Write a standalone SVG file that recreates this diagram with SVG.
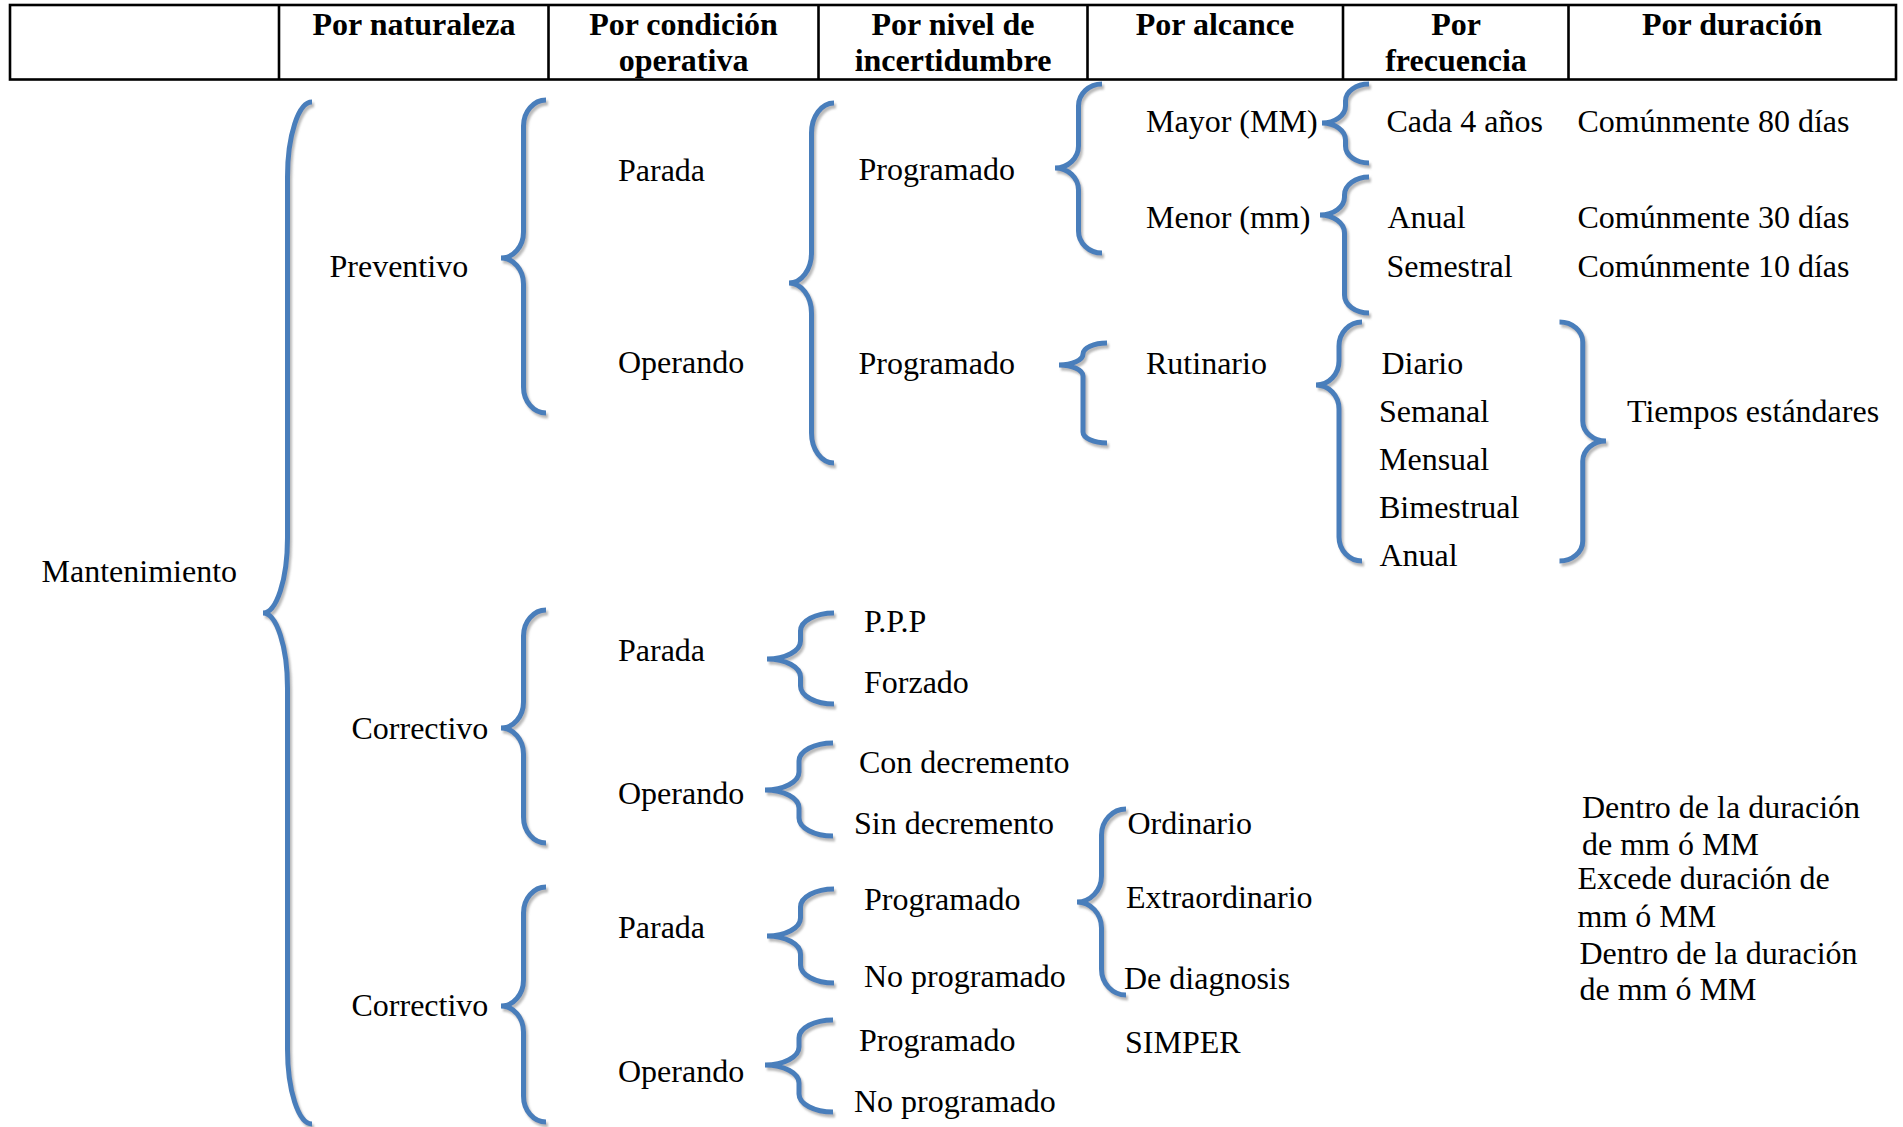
<svg xmlns="http://www.w3.org/2000/svg" width="1903" height="1127" viewBox="0 0 1903 1127">
<style>
  .hd { font-family: "Liberation Serif", "Times New Roman", serif; font-weight: bold; font-size: 32px; fill: #000; text-anchor: middle; }
  .t { font-family: "Liberation Serif", "Times New Roman", serif; font-size: 32px; fill: #000; }
  .grid { stroke: #000; stroke-width: 2.6; fill: none; }
  .br { fill: none; stroke: #4A7EBB; stroke-width: 5; stroke-linecap: butt; stroke-linejoin: miter; }
</style>
<defs>
  <filter id="shadow" x="-20%" y="-5%" width="140%" height="110%">
    <feDropShadow dx="2" dy="3" stdDeviation="0.8" flood-color="#8c8c8c" flood-opacity="0.6"/>
  </filter>
</defs>
<rect width="1903" height="1127" fill="#fff"/>

<g id="header-table">
  <rect class="grid" x="10" y="5" width="1886" height="74.5"/>
  <line class="grid" x1="279" y1="5" x2="279" y2="79.5"/>
  <line class="grid" x1="548.5" y1="5" x2="548.5" y2="79.5"/>
  <line class="grid" x1="818.5" y1="5" x2="818.5" y2="79.5"/>
  <line class="grid" x1="1087.5" y1="5" x2="1087.5" y2="79.5"/>
  <line class="grid" x1="1343" y1="5" x2="1343" y2="79.5"/>
  <line class="grid" x1="1568.5" y1="5" x2="1568.5" y2="79.5"/>
  <text class="hd" x="414" y="35">Por naturaleza</text>
  <text class="hd" x="683.5" y="35">Por condición</text>
  <text class="hd" x="683.5" y="71">operativa</text>
  <text class="hd" x="953" y="35">Por nivel de</text>
  <text class="hd" x="953" y="71">incertidumbre</text>
  <text class="hd" x="1215" y="35">Por alcance</text>
  <text class="hd" x="1456" y="35">Por</text>
  <text class="hd" x="1456" y="71">frecuencia</text>
  <text class="hd" x="1732" y="35">Por duración</text>
</g>

<g id="connectors" filter="url(#shadow)">
  <path class="br" d="M312 102 A24.5 75 0 0 0 287.5 177 L287.5 538 A24.5 75 0 0 1 263 613 A24.5 75 0 0 1 287.5 688 L287.5 1049 A24.5 75 0 0 0 312 1124"/>
  <path class="br" d="M546 100 A22.5 26 0 0 0 523.5 126 L523.5 232 A22.5 26 0 0 1 501 258 A22.5 26 0 0 1 523.5 284 L523.5 387 A22.5 26 0 0 0 546 413"/>
  <path class="br" d="M546 610 A22.5 26 0 0 0 523.5 636 L523.5 702 A22.5 26 0 0 1 501 728 A22.5 26 0 0 1 523.5 754 L523.5 817 A22.5 26 0 0 0 546 843"/>
  <path class="br" d="M546 887 A22.5 26 0 0 0 523.5 913 L523.5 980 A22.5 26 0 0 1 501 1006 A22.5 26 0 0 1 523.5 1032 L523.5 1096 A22.5 26 0 0 0 546 1122"/>
  <path class="br" d="M834 103 A22.5 30 0 0 0 811.5 133 L811.5 253 A22.5 30 0 0 1 789 283 A22.5 30 0 0 1 811.5 313 L811.5 433 A22.5 30 0 0 0 834 463"/>
  <path class="br" d="M1102 84 A23.5 22 0 0 0 1078.5 106 L1078.5 146 A23.5 22 0 0 1 1055 168 A23.5 22 0 0 1 1078.5 190 L1078.5 231 A23.5 22 0 0 0 1102 253"/>
  <path class="br" d="M1107 343 A24 11 0 0 0 1083 354 A24 11 0 0 1 1059 365 A24 11 0 0 1 1083 376 L1083 432 A24 11 0 0 0 1107 443"/>
  <path class="br" d="M1369 84 A23.5 17 0 0 0 1345.5 101 L1345.5 106 A23.5 17 0 0 1 1322 123 A23.5 17 0 0 1 1345.5 140 L1345.5 146 A23.5 17 0 0 0 1369 163"/>
  <path class="br" d="M1369 177 A24.5 18 0 0 0 1344.5 195 L1344.5 197 A24.5 18 0 0 1 1320 215 A24.5 18 0 0 1 1344.5 233 L1344.5 295 A24.5 18 0 0 0 1369 313"/>
  <path class="br" d="M1362 322 A23 24 0 0 0 1339 346 L1339 361 A23 24 0 0 1 1316 385 A23 24 0 0 1 1339 409 L1339 537 A23 24 0 0 0 1362 561"/>
  <path class="br" d="M1559.5 322 A23.25 20 0 0 1 1582.75 342 L1582.75 421 A23.25 20 0 0 0 1606 441 A23.25 20 0 0 0 1582.75 461 L1582.75 541 A23.25 20 0 0 1 1559.5 561"/>
  <path class="br" d="M834 613 A33.5 18 0 0 0 800.5 631 L800.5 641 A33.5 18 0 0 1 767 659 A33.5 18 0 0 1 800.5 677 L800.5 686 A33.5 18 0 0 0 834 704"/>
  <path class="br" d="M833 743 A34 18 0 0 0 799 761 L799 772 A34 18 0 0 1 765 790 A34 18 0 0 1 799 808 L799 818 A34 18 0 0 0 833 836"/>
  <path class="br" d="M834 889 A33.5 18 0 0 0 800.5 907 L800.5 918 A33.5 18 0 0 1 767 936 A33.5 18 0 0 1 800.5 954 L800.5 965 A33.5 18 0 0 0 834 983"/>
  <path class="br" d="M833 1020 A34 18 0 0 0 799 1038 L799 1047 A34 18 0 0 1 765 1065 A34 18 0 0 1 799 1083 L799 1094 A34 18 0 0 0 833 1112"/>
  <path class="br" d="M1126 809 A24.5 26 0 0 0 1101.5 835 L1101.5 876 A24.5 26 0 0 1 1077 902 A24.5 26 0 0 1 1101.5 928 L1101.5 969 A24.5 26 0 0 0 1126 995"/>
</g>

<g id="n-mantenimiento"><text class="t" x="41.5" y="582">Mantenimiento</text></g>
<g id="n-preventivo"><text class="t" x="329.5" y="277">Preventivo</text></g>
<g id="n-correctivo-1"><text class="t" x="351.5" y="739">Correctivo</text></g>
<g id="n-correctivo-2"><text class="t" x="351.5" y="1016">Correctivo</text></g>

<g id="n-prev-parada"><text class="t" x="618" y="181">Parada</text></g>
<g id="n-prev-operando"><text class="t" x="618" y="373">Operando</text></g>
<g id="n-c1-parada"><text class="t" x="618" y="661">Parada</text></g>
<g id="n-c1-operando"><text class="t" x="618" y="804">Operando</text></g>
<g id="n-c2-parada"><text class="t" x="618" y="938">Parada</text></g>
<g id="n-c2-operando"><text class="t" x="618" y="1082">Operando</text></g>

<g id="n-prev-programado-1"><text class="t" x="858.5" y="180">Programado</text></g>
<g id="n-prev-programado-2"><text class="t" x="858.5" y="373.5">Programado</text></g>
<g id="n-ppp"><text class="t" x="864" y="632">P.P.P</text></g>
<g id="n-forzado"><text class="t" x="864" y="693">Forzado</text></g>
<g id="n-con-decremento"><text class="t" x="859" y="773">Con decremento</text></g>
<g id="n-sin-decremento"><text class="t" x="854" y="834">Sin decremento</text></g>
<g id="n-c2-programado-1"><text class="t" x="864" y="909.5">Programado</text></g>
<g id="n-c2-no-programado-1"><text class="t" x="864" y="987">No programado</text></g>
<g id="n-c2-programado-2"><text class="t" x="859" y="1051">Programado</text></g>
<g id="n-c2-no-programado-2"><text class="t" x="854" y="1112">No programado</text></g>

<g id="n-mayor"><text class="t" x="1146" y="132">Mayor (MM)</text></g>
<g id="n-menor"><text class="t" x="1146" y="228">Menor (mm)</text></g>
<g id="n-rutinario"><text class="t" x="1146" y="373.5">Rutinario</text></g>
<g id="n-ordinario"><text class="t" x="1127.5" y="834">Ordinario</text></g>
<g id="n-extraordinario"><text class="t" x="1126" y="907.5">Extraordinario</text></g>
<g id="n-diagnosis"><text class="t" x="1124" y="989">De diagnosis</text></g>
<g id="n-simper"><text class="t" x="1125" y="1052.5">SIMPER</text></g>

<g id="n-cada4"><text class="t" x="1386.5" y="132">Cada 4 años</text></g>
<g id="n-anual-1"><text class="t" x="1387.5" y="228">Anual</text></g>
<g id="n-semestral"><text class="t" x="1386.5" y="277">Semestral</text></g>
<g id="n-diario"><text class="t" x="1381.5" y="373.5">Diario</text></g>
<g id="n-semanal"><text class="t" x="1379" y="421.5">Semanal</text></g>
<g id="n-mensual"><text class="t" x="1379" y="469.5">Mensual</text></g>
<g id="n-bimestrual"><text class="t" x="1379" y="517.5">Bimestrual</text></g>
<g id="n-anual-2"><text class="t" x="1379.5" y="565.5">Anual</text></g>

<g id="n-dur-80"><text class="t" x="1577.5" y="132">Comúnmente 80 días</text></g>
<g id="n-dur-30"><text class="t" x="1577.5" y="228">Comúnmente 30 días</text></g>
<g id="n-dur-10"><text class="t" x="1577.5" y="277">Comúnmente 10 días</text></g>
<g id="n-tiempos"><text class="t" x="1627" y="421.5">Tiempos estándares</text></g>
<g id="n-dentro-1"><text class="t" x="1582" y="817.5">Dentro de la duración</text><text class="t" x="1582" y="854.5">de mm ó MM</text></g>
<g id="n-excede"><text class="t" x="1577.5" y="889">Excede duración de</text><text class="t" x="1577.5" y="927">mm ó MM</text></g>
<g id="n-dentro-2"><text class="t" x="1579.5" y="963.5">Dentro de la duración</text><text class="t" x="1579.5" y="1000">de mm ó MM</text></g>
</svg>
